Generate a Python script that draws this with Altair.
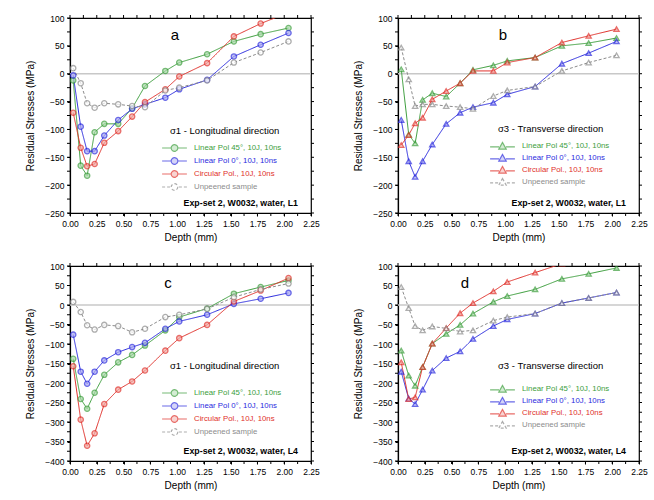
import altair as alt
import pandas as pd

DEPTH = [0.03, 0.10, 0.16, 0.23, 0.32, 0.45, 0.58, 0.70, 0.89, 1.02, 1.28, 1.53, 1.78, 2.04]

SERIES = ["Linear Pol 45°, 10J, 10ns", "Linear Pol 0°, 10J, 10ns",
          "Circular Pol., 10J, 10ns", "Unpeened sample"]
COLORS = ["#3c9e3c", "#2b2bde", "#e0302a", "#8c8c8c"]
FILLS = ["#a9d9a9", "#a9a9f2", "#f2aaa4", "#ffffff"]
DASHES = [[1, 0], [1, 0], [1, 0], [3, 2]]

A_GREEN = [-12, -165, -183, -105, -90, -90, -62, -22, 5, 20, 35, 58, 71, 82]
A_BLUE = [-3, -95, -139, -139, -111, -83, -63, -55, -43, -28, -11, 31, 52, 73]
A_RED = [-70, -133, -166, -162, -124, -103, -77, -51, -28, -5, 19, 67, 90, 110]
A_GRAY = [10, -17, -53, -61, -53, -55, -58, -60, -30, -25, -12, 20, 38, 58]

B_GREEN = [8, -109, -125, -47, -35, -41, -17, 7, 15, 23, 29, 50, 55, 64]
B_BLUE = [-83, -157, -185, -157, -127, -90, -70, -60, -52, -37, -23, 18, 37, 58]
B_RED = [-128, -110, -89, -79, -46, -31, -17, 5, 5, 20, 29, 56, 68, 80]
B_GRAY = [47, -10, -58, -55, -55, -58, -60, -63, -40, -30, -23, 5, 20, 33]

C_GREEN = [-138, -241, -266, -225, -179, -147, -128, -104, -65, -31, -9, 29, 46, 63]
C_BLUE = [-76, -171, -202, -171, -142, -121, -108, -97, -61, -42, -25, 3, 16, 31]
C_RED = [-157, -294, -361, -329, -254, -217, -196, -168, -117, -85, -51, 9, 37, 69]
C_GRAY = [8, -18, -52, -63, -51, -54, -70, -61, -31, -25, -10, 20, 40, 55]

D_GREEN = [-117, -181, -207, -159, -99, -74, -51, -22, 8, 23, 40, 67, 80, 95]
D_BLUE = [-171, -240, -254, -217, -168, -136, -119, -87, -54, -37, -22, 5, 18, 32]
D_RED = [-147, -241, -237, -159, -99, -59, -21, 5, 35, 59, 83, 106, 120, 135]
D_GRAY = [46, -8, -54, -65, -55, -60, -68, -65, -40, -31, -22, 5, 18, 32]

X_MAJOR = [0, 0.25, 0.5, 0.75, 1.0, 1.25, 1.5, 1.75, 2.0, 2.25]
X_TICKS = [0, 0.125, 0.25, 0.375, 0.5, 0.625, 0.75, 0.875, 1.0, 1.125, 1.25,
           1.375, 1.5, 1.625, 1.75, 1.875, 2.0, 2.125, 2.25]

FONT = "Liberation Sans"
W, H = 241, 195
TL = 3  # tick length

CIRCLE_PATH = ("M-3.2,0L-0.85,0M3.2,0L0.85,0M0.85,0"
               "A0.85,0.85,0,1,1,-0.85,0A0.85,0.85,0,1,1,0.85,0Z")
TRI_PATH = ("M-3.2,0.25L-0.9,0.25M3.2,0.25L0.9,0.25"
            "M0,-0.9L0.95,0.8L-0.95,0.8Z")


def label_color_expr():
    expr = "'black'"
    for s, c in zip(SERIES, COLORS):
        expr = f"datum.label == '{s}' ? '{c}' : ({expr})"
    return expr


def make_df(series_vals):
    rows = []
    for name, vals in zip(SERIES, series_vals):
        for d, v in zip(DEPTH, vals):
            rows.append({"depth": d, "stress": v, "series": name})
    return pd.DataFrame(rows)


def panel(series_vals, ymin, letter, ltitle, setlabel, shape, sym_path,
          leg_y, title_pad, letter_x):
    df = make_df(series_vals)
    y_major = list(range(ymin, 101, 50))
    y_ticks = list(range(ymin, 101, 25))
    xscale = alt.Scale(domain=[0, 2.25], nice=False, zero=False)
    yscale = alt.Scale(domain=[ymin, 100], nice=False, zero=False)
    common = dict(tickColor="black", domainColor="black", labelFont=FONT,
                  titleFont=FONT, labelFontSize=8.5, titleFontSize=10,
                  titleFontWeight="normal", grid=False, labelColor="black",
                  titleColor="black", tickSize=TL, domainWidth=1.2,
                  labelOverlap=False)
    xaxis = alt.Axis(values=X_MAJOR, title="Depth (mm)", format=".2f",
                     labelPadding=3, titlePadding=5, labelFlush=False, **common)
    yaxis = alt.Axis(values=y_major, title="Residual Stresses (MPa)",
                     format="d", labelPadding=3, titlePadding=9, **common)

    base = alt.Chart(df)
    cscale = alt.Scale(domain=SERIES, range=COLORS)
    X = alt.X("depth:Q", scale=xscale, axis=xaxis)
    Y = alt.Y("stress:Q", scale=yscale, axis=yaxis)

    leg = alt.Legend(
        title=ltitle, orient="none", legendX=100, legendY=leg_y,
        symbolType=sym_path, symbolSize=60, symbolStrokeWidth=1.2,
        labelFontSize=7.8, titleFontSize=9.5,
        titleFont=FONT, labelFont=FONT, titleFontWeight="normal",
        titleColor="black", rowPadding=0, titlePadding=title_pad,
        labelOffset=15, labelLimit=200, padding=0,
        labelColor=alt.ExprRef(expr=label_color_expr()))
    color = alt.Color("series:N", scale=cscale, legend=leg)

    lines = base.mark_line(strokeWidth=1, clip=True).encode(
        x=X, y=Y, color=color,
        strokeDash=alt.StrokeDash("series:N",
                                  scale=alt.Scale(domain=SERIES, range=DASHES),
                                  legend=leg),
    )
    pts = base.mark_point(shape=shape, filled=False, size=28, strokeWidth=1.3,
                          clip=True).encode(
        x=X, y=Y, color=color,
        fill=alt.Fill("series:N", scale=alt.Scale(domain=SERIES, range=FILLS),
                      legend=leg),
    )

    zline = alt.Chart(pd.DataFrame({"z": [0]})).mark_rule(
        color="#c8c8c8", strokeWidth=1.5).encode(
        y=alt.Y("z:Q", scale=yscale, axis=yaxis))

    ann = pd.DataFrame({"letter": [letter], "setlabel": [setlabel]})
    ltext = alt.Chart(ann).mark_text(font=FONT, fontSize=15, color="black").encode(
        x=alt.value(letter_x), y=alt.value(17), text="letter:N")
    stext = alt.Chart(ann).mark_text(font=FONT, fontSize=8.8, fontWeight="bold",
                                     color="black", align="right").encode(
        x=alt.value(228), y=alt.value(185), text="setlabel:N")

    xt = alt.Chart(pd.DataFrame({"xt": X_TICKS}))
    yt = alt.Chart(pd.DataFrame({"yt": y_ticks}))
    XT = alt.X("xt:Q", scale=xscale, axis=xaxis)
    YT = alt.Y("yt:Q", scale=yscale, axis=yaxis)
    tick_top = xt.mark_rule(color="black", strokeWidth=1).encode(
        x=XT, y=alt.value(-TL), y2=alt.value(0))
    tick_bot = xt.mark_rule(color="black", strokeWidth=1).encode(
        x=XT, y=alt.value(H), y2=alt.value(H + TL))
    tick_left = yt.mark_rule(color="black", strokeWidth=1).encode(
        y=YT, x=alt.value(-TL), x2=alt.value(0))
    tick_right = yt.mark_rule(color="black", strokeWidth=1).encode(
        y=YT, x=alt.value(W), x2=alt.value(W + TL))

    return alt.layer(zline, lines, pts, ltext, stext,
                     tick_top, tick_bot, tick_left, tick_right
                     ).properties(width=W, height=H)


pa = panel([A_GREEN, A_BLUE, A_RED, A_GRAY], -250, "a",
           "σ1 - Longitudinal direction", "Exp-set 2, W0032, water, L1",
           "circle", CIRCLE_PATH, 108, 8, 105)
pb = panel([B_GREEN, B_BLUE, B_RED, B_GRAY], -250, "b",
           "σ3 - Transverse direction", "Exp-set 2, W0032, water, L1",
           "triangle-up", TRI_PATH, 106, 8, 105)
pc = panel([C_GREEN, C_BLUE, C_RED, C_GRAY], -400, "c",
           "σ1 - Longitudinal direction", "Exp-set 2, W0032, water, L4",
           "circle", CIRCLE_PATH, 95, 18, 98)
pd_ = panel([D_GREEN, D_BLUE, D_RED, D_GRAY], -400, "d",
            "σ3 - Transverse direction", "Exp-set 2, W0032, water, L4",
            "triangle-up", TRI_PATH, 95, 14, 67)

ind = dict(color="independent", fill="independent", strokeDash="independent")
top = alt.hconcat(pa, pb, spacing=33).resolve_scale(**ind).resolve_legend(**ind)
bot = alt.hconcat(pc, pd_, spacing=33).resolve_scale(**ind).resolve_legend(**ind)
chart = alt.vconcat(top, bot, spacing=17).resolve_scale(**ind).resolve_legend(
    **ind).properties(
    padding={"left": 25, "top": 13, "right": 5, "bottom": 5},
    background="white",
).configure_view(stroke="black", strokeWidth=1.2)

chart.save("out.html", embed_options={"renderer": "svg", "actions": False})
